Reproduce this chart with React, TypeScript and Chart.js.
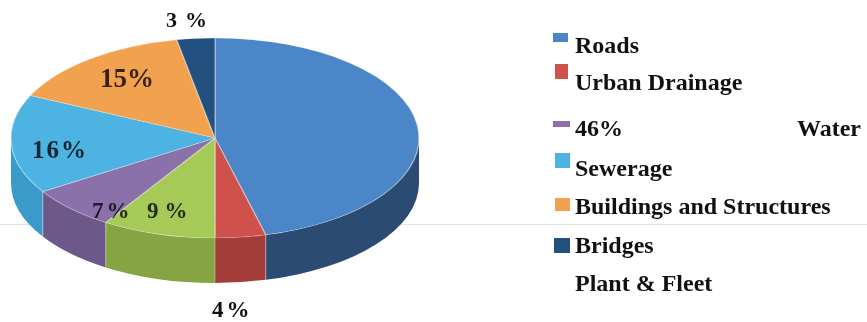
import React, { useEffect, useRef } from "react";
import { Chart, registerables } from "chart.js";

Chart.register(...registerables);

// ---- data (clockwise from 12 o'clock) ----
const categories = [
  "Roads",
  "Urban Drainage",
  "Plant & Fleet",
  "Water",
  "Sewerage",
  "Buildings and Structures",
  "Bridges",
];
const shares = [46, 4, 9, 7, 16, 15, 3];
const topColors = ["#4a86c8", "#cf514b", "#a6ca57", "#8a71aa", "#4cb3e2", "#f2a14f", "#22507f"];
const sideColors = ["#2b4b72", "#a23d39", "#86a542", "#6c5889", "#3a9bcb", "#c97d35", "#173a5e"];
const legendOrder = [
  "Roads",
  "Urban Drainage",
  "Water",
  "Sewerage",
  "Buildings and Structures",
  "Bridges",
  "Plant & Fleet",
];
const legendNoSwatch = ["Plant & Fleet"];

// ---- layout (not data) ----
const RX = 204;
const RY = 100;
const DEPTH = 45;
const FONT = '"Liberation Serif", "Times New Roman", serif';

const pctLayout: Record<string, { x: number; y: number; size: number; ls: number; inside: boolean }> = {
  Roads: { x: 575, y: 136, size: 24, ls: 0, inside: false },
  "Urban Drainage": { x: 212, y: 317, size: 23, ls: 3, inside: false },
  "Plant & Fleet": { x: 147, y: 218, size: 23, ls: 6, inside: true },
  Water: { x: 92, y: 218, size: 23, ls: 3, inside: true },
  Sewerage: { x: 32, y: 158, size: 25, ls: 2, inside: true },
  "Buildings and Structures": { x: 100, y: 87, size: 27, ls: 0, inside: true },
  Bridges: { x: 166, y: 27, size: 22, ls: 8, inside: false },
};

const legendLayout: Record<string, { tx: number; ty: number; sw?: [number, number, number, number] }> = {
  Roads: { tx: 575, ty: 53, sw: [553, 33, 15, 9] },
  "Urban Drainage": { tx: 575, ty: 90, sw: [555, 64, 13, 15] },
  Water: { tx: 797, ty: 136, sw: [553, 121, 17, 6] },
  Sewerage: { tx: 575, ty: 176, sw: [555, 153, 15, 15] },
  "Buildings and Structures": { tx: 575, ty: 214, sw: [555, 198, 15, 13] },
  Bridges: { tx: 575, ty: 253, sw: [554, 238, 16, 15] },
  "Plant & Fleet": { tx: 575, ty: 291 },
};

const pie3d = {
  id: "pie3d",
  beforeDraw(chart: any) {
    const ctx = chart.ctx;
    ctx.save();
    ctx.fillStyle = "#ffffff";
    ctx.fillRect(0, 0, chart.width, chart.height);
    ctx.strokeStyle = "#e2e2e2";
    ctx.lineWidth = 1;
    ctx.beginPath();
    ctx.moveTo(0, 224.5);
    ctx.lineTo(chart.width, 224.5);
    ctx.stroke();
    ctx.restore();
  },
  beforeDatasetsDraw(chart: any) {
    const ctx = chart.ctx;
    const meta = chart.getDatasetMeta(0);
    const el0 = meta.data[0];
    const cx = el0.x;
    const cy = el0.y;
    const R = el0.outerRadius;
    const sx = RX / R;
    const sy = RY / R;
    ctx.save();
    ctx.translate(cx, cy);
    ctx.scale(sx, sy);
    ctx.translate(-cx, -cy);
    const off = DEPTH / sy;
    meta.data.forEach((el: any, i: number) => {
      const a = Math.max(el.startAngle, 0);
      const b = Math.min(el.endAngle, Math.PI);
      if (b <= a) return;
      ctx.beginPath();
      ctx.arc(cx, cy, R, a, b);
      ctx.arc(cx, cy + off, R, b, a, true);
      ctx.closePath();
      ctx.fillStyle = sideColors[i];
      ctx.fill();
    });
    // seams on the side wall
    ctx.strokeStyle = "rgba(255,255,255,0.25)";
    ctx.lineWidth = 1;
    meta.data.forEach((el: any) => {
      const t = el.startAngle;
      if (t > 0 && t < Math.PI) {
        ctx.beginPath();
        ctx.moveTo(cx + R * Math.cos(t), cy + R * Math.sin(t));
        ctx.lineTo(cx + R * Math.cos(t), cy + R * Math.sin(t) + off);
        ctx.stroke();
      }
    });
  },
  afterDatasetsDraw(chart: any) {
    const ctx = chart.ctx;
    ctx.restore();
    ctx.save();
    ctx.textBaseline = "alphabetic";
    ctx.textAlign = "left";
    // percentage labels
    categories.forEach((name, i) => {
      const L = pctLayout[name];
      if (!L) return;
      ctx.font = `bold ${L.size}px ${FONT}`;
      (ctx as any).letterSpacing = `${L.ls}px`;
      ctx.fillStyle = L.inside ? "rgba(0,0,0,0.78)" : "#111111";
      ctx.fillText(`${shares[i]}%`, L.x, L.y);
    });
    (ctx as any).letterSpacing = "0px";
    // legend
    ctx.font = `bold 24px ${FONT}`;
    legendOrder.forEach((name) => {
      const L = legendLayout[name];
      const idx = categories.indexOf(name);
      if (L.sw && !legendNoSwatch.includes(name)) {
        ctx.fillStyle = topColors[idx];
        ctx.fillRect(L.sw[0], L.sw[1], L.sw[2], L.sw[3]);
      }
      ctx.fillStyle = "#111111";
      ctx.fillText(name, L.tx, L.ty);
    });
    ctx.restore();
  },
};

export default function App() {
  const ref = useRef<HTMLCanvasElement | null>(null);
  useEffect(() => {
    if (!ref.current) return;
    const chart = new Chart(ref.current, {
      type: "pie",
      data: {
        labels: categories,
        datasets: [
          {
            data: shares,
            backgroundColor: topColors,
            borderColor: "rgba(255,255,255,0.35)",
            borderWidth: 1,
          },
        ],
      },
      options: {
        responsive: false,
        animation: false,
        rotation: 0,
        layout: { padding: { left: 11, right: 448, top: 0, bottom: 46 } },
        plugins: {
          legend: { display: false },
          tooltip: { enabled: false },
        },
      },
      plugins: [pie3d],
    });
    return () => chart.destroy();
  }, []);
  return (
    <div style={{ position: "fixed", left: 0, top: 0, width: 867, height: 322, background: "#fff" }}>
      <canvas ref={ref} width={867} height={322} style={{ width: 867, height: 322, display: "block" }} />
    </div>
  );
}
